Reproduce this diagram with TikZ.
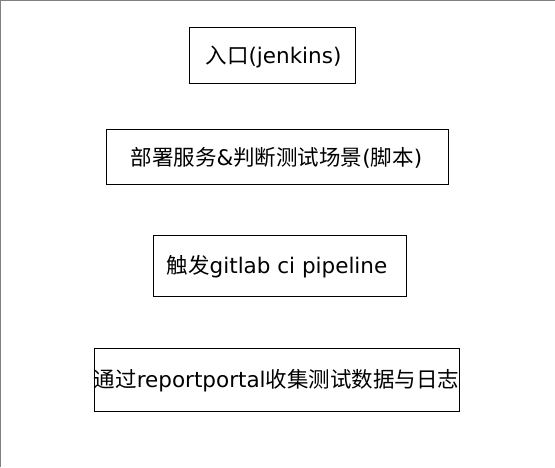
\documentclass[tikz,border=0pt]{standalone}
\usepackage{fontspec}
\setmainfont{DejaVu Sans}
\newfontfamily\cjk{Noto Sans CJK SC}
\begin{document}
\begin{tikzpicture}[x=1pt,y=-1pt,
  boxnode/.style={draw=black,line width=1pt,inner sep=0pt,rectangle},
  txt/.style={inner sep=0pt,font=\fontsize{21.5}{25}\selectfont}]
\useasboundingbox (0,0) rectangle (555,467);
\coordinate (tl) at (0.5,0.5);
\coordinate (tr) at (555,0.5);
\coordinate (bl) at (0.5,467);
\draw[gray,line width=1pt] (bl) -- (tl) -- (tr);

\node[boxnode,minimum width=166pt,minimum height=56pt] (b1) at (272.5,55) {};
\node[boxnode,minimum width=342pt,minimum height=55pt] (b2) at (277,156.5) {};
\node[boxnode,minimum width=253pt,minimum height=61pt] (b3) at (279.5,265.5) {};
\node[boxnode,minimum width=365pt,minimum height=63pt] (b4) at (276.5,379.5) {};

\node[txt] (t1) at (273.5,57) {{\cjk 入口}(jenkins)};
\node[txt] (t2) at (276.5,158) {{\cjk 部署服务}\&{\cjk 判断测试场景}({\cjk 脚本})};
\node[txt] (t3) at (277,267) {{\cjk 触发}gitlab ci pipeline};
\node[txt] (t4) at (276.5,381) {{\cjk 通过}reportportal{\cjk 收集测试数据与日志}};
\end{tikzpicture}
\end{document}
